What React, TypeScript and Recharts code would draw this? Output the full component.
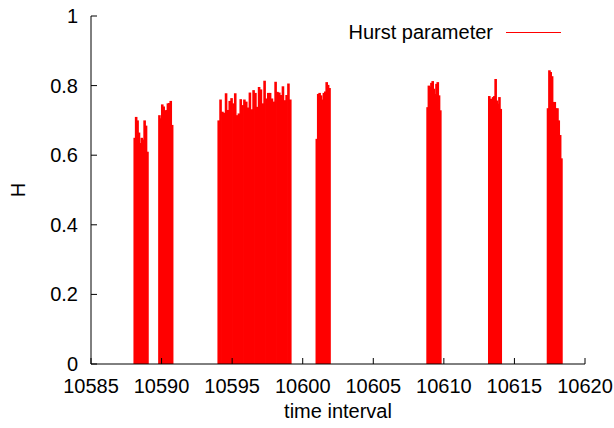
import { ComposedChart, Bar, XAxis, YAxis, Legend } from "recharts";

const xTicks = [10585, 10590, 10595, 10600, 10605, 10610, 10615, 10620];
const yTicks = [0, 0.2, 0.4, 0.6, 0.8, 1];

// each burst: time interval positions and the Hurst parameter
const t1 = [10588.1, 10588.2, 10588.3, 10588.4, 10588.5, 10588.6, 10588.7, 10588.8, 10588.9, 10589.0];
const h1 = [0.65, 0.71, 0.70, 0.665, 0.635, 0.65, 0.645, 0.70, 0.685, 0.61];

const t2 = [10589.85, 10589.95, 10590.05, 10590.15, 10590.25, 10590.35, 10590.45, 10590.55, 10590.65, 10590.75];
const h2 = [0.715, 0.706, 0.746, 0.74, 0.728, 0.73, 0.749, 0.75, 0.756, 0.687];

const t3 = [
  10594.05, 10594.18, 10594.31, 10594.44, 10594.57, 10594.7, 10594.83, 10594.96, 10595.09, 10595.22,
  10595.35, 10595.48, 10595.61, 10595.74, 10595.87, 10596.0, 10596.13, 10596.26, 10596.39, 10596.52,
  10596.65, 10596.78, 10596.91, 10597.04, 10597.17, 10597.3, 10597.43, 10597.56, 10597.69, 10597.82,
  10597.95, 10598.08, 10598.21, 10598.34, 10598.47, 10598.6, 10598.73, 10598.86, 10598.99, 10599.12,
];
const h3 = [
  0.70, 0.76, 0.725, 0.722, 0.778, 0.73, 0.756, 0.764, 0.749, 0.778,
  0.715, 0.72, 0.761, 0.744, 0.76, 0.754, 0.737, 0.78, 0.732, 0.787,
  0.779, 0.739, 0.796, 0.789, 0.749, 0.814, 0.763, 0.779, 0.779, 0.763,
  0.754, 0.811, 0.782, 0.78, 0.773, 0.798, 0.758, 0.773, 0.806, 0.76,
];

const t4 = [10601.0, 10601.1, 10601.2, 10601.3, 10601.4, 10601.5, 10601.6, 10601.7, 10601.8, 10601.9];
const h4 = [0.647, 0.776, 0.779, 0.772, 0.76, 0.779, 0.783, 0.81, 0.802, 0.793];

const t5 = [10608.85, 10608.94, 10609.03, 10609.12, 10609.21, 10609.3, 10609.39, 10609.48, 10609.57, 10609.66, 10609.75];
const h5 = [0.738, 0.80, 0.796, 0.808, 0.813, 0.791, 0.776, 0.805, 0.81, 0.772, 0.729];

const t6 = [10613.22, 10613.31, 10613.4, 10613.49, 10613.58, 10613.67, 10613.76, 10613.85, 10613.94, 10614.03];
const h6 = [0.77, 0.762, 0.762, 0.767, 0.77, 0.819, 0.757, 0.748, 0.767, 0.733];

const t7 = [10617.38, 10617.48, 10617.57, 10617.67, 10617.76, 10617.86, 10617.95, 10618.05, 10618.14, 10618.24, 10618.33];
const h7 = [0.735, 0.844, 0.839, 0.827, 0.753, 0.753, 0.735, 0.735, 0.70, 0.658, 0.591];

const bursts: [number[], number[]][] = [
  [t1, h1], [t2, h2], [t3, h3], [t4, h4], [t5, h5], [t6, h6], [t7, h7],
];
const data = bursts.flatMap(([t, h]) => t.map((v, i) => ({ t: v, h: h[i] })));

const font = '"Liberation Sans", Arial, Helvetica, sans-serif';
const fs = 20;

// gnuplot style: ticks point inward
const BottomTick = ({ x, y, payload }: any) => (
  <g>
    <line x1={x} x2={x} y1={y} y2={y - 6} stroke="#000" />
    <text x={x} y={y + 29} textAnchor="middle" fontFamily={font} fontSize={fs} fill="#000">
      {payload.value}
    </text>
  </g>
);
const TopTick = ({ x, y }: any) => <line x1={x} x2={x} y1={y} y2={y + 6} stroke="#000" />;
const LeftTick = ({ x, y, payload }: any) => (
  <g>
    <line x1={x} x2={x + 6} y1={y} y2={y} stroke="#000" />
    <text x={x - 13} y={y + 7} textAnchor="end" fontFamily={font} fontSize={fs} fill="#000">
      {payload.value}
    </text>
  </g>
);
const RightTick = ({ x, y }: any) => <line x1={x} x2={x - 6} y1={y} y2={y} stroke="#000" />;

// impulse: a narrow bar centred on the point
const Impulse = (props: any) => {
  const { x, y, width, height } = props;
  if (height == null || isNaN(height)) return null;
  const c = x + width / 2;
  return <rect x={c - 1.3} y={y} width={2.6} height={height} fill="#ff0000" />;
};

const XLabel = (props: any) => {
  const vb = props.viewBox;
  return (
    <text x={vb.x + vb.width / 2} y={vb.y + 54} textAnchor="middle" fontFamily={font} fontSize={fs} fill="#000">
      time interval
    </text>
  );
};
const YLabel = (props: any) => {
  const vb = props.viewBox;
  const x = vb.x + 25;
  const y = vb.y + vb.height / 2;
  return (
    <text x={x} y={y} transform={`rotate(-90, ${x}, ${y})`} textAnchor="middle" fontFamily={font} fontSize={fs} fill="#000">
      H
    </text>
  );
};

const LegendBox = () => (
  <div style={{ display: "flex", alignItems: "center", justifyContent: "flex-end", height: 24, fontFamily: font, fontSize: fs, color: "#000" }}>
    <span style={{ marginRight: 13, whiteSpace: "nowrap" }}>Hurst parameter</span>
    <span style={{ display: "inline-block", width: 55, height: 1, background: "#ff0000" }} />
  </div>
);

export default function App() {
  return (
    <div style={{ position: "absolute", left: 0, top: 0, background: "#fff" }}>
      <ComposedChart width={614} height={428} data={data} margin={{ top: 16, right: 29, bottom: 0, left: 0 }}>
        <XAxis
          xAxisId="b"
          dataKey="t"
          type="number"
          domain={[10585, 10620]}
          ticks={xTicks}
          interval={0}
          allowDataOverflow
          height={64}
          tickSize={0}
          tickMargin={0}
          tickLine={false}
          axisLine={{ stroke: "#000" }}
          tick={<BottomTick />}
          label={<XLabel />}
        />
        <XAxis
          xAxisId="t"
          orientation="top"
          dataKey="t"
          type="number"
          domain={[10585, 10620]}
          ticks={xTicks}
          interval={0}
          allowDataOverflow
          height={0}
          tickSize={0}
          tickMargin={0}
          tickLine={false}
          axisLine={{ stroke: "#000" }}
          tick={<TopTick />}
        />
        <YAxis
          yAxisId="l"
          type="number"
          domain={[0, 1]}
          ticks={yTicks}
          interval={0}
          allowDataOverflow
          width={91}
          tickSize={0}
          tickMargin={0}
          tickLine={false}
          axisLine={{ stroke: "#000" }}
          tick={<LeftTick />}
          label={<YLabel />}
        />
        <YAxis
          yAxisId="r"
          orientation="right"
          type="number"
          domain={[0, 1]}
          ticks={yTicks}
          interval={0}
          allowDataOverflow
          width={0}
          tickSize={0}
          tickMargin={0}
          tickLine={false}
          axisLine={{ stroke: "#000" }}
          tick={<RightTick />}
        />
        <Bar xAxisId="b" yAxisId="l" dataKey="h" name="Hurst parameter" shape={<Impulse />} isAnimationActive={false} />
        <Legend
          layout="horizontal"
          verticalAlign="middle"
          align="center"
          content={<LegendBox />}
          wrapperStyle={{ left: 293, top: 20, width: 268 }}
        />
      </ComposedChart>
    </div>
  );
}
